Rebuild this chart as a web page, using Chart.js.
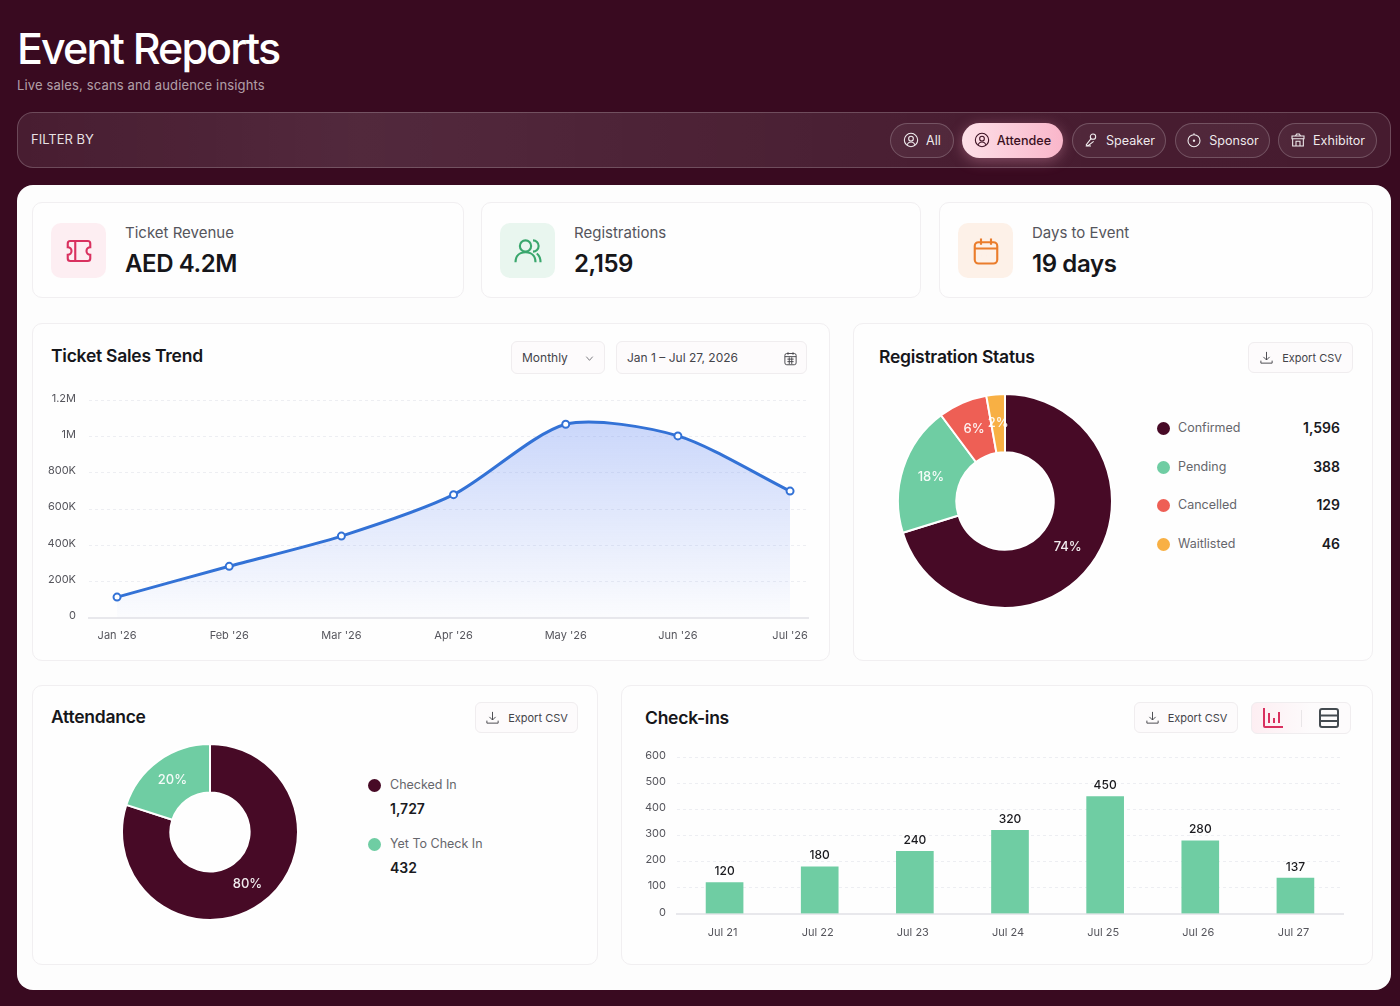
<!DOCTYPE html>
<html lang="en">
<head>
<meta charset="utf-8">
<title>Event Reports</title>
<script src="https://cdn.jsdelivr.net/npm/chart.js@4"></script>
<style>
  * { box-sizing: border-box; margin: 0; padding: 0; }
  html, body { width: 1400px; height: 1006px; overflow: hidden; }
  body { background: #390a20; font-family: Inter, "Noto Sans", sans-serif; color: #16161a; position: relative; }
  .abs, h1, .sub, .filter, .panel, .card, canvas, .title, .btn { position: absolute; }
  h1 { left: 17px; top: 21px; font-size: 43px; line-height: 54px; font-weight: 500; color: #fff; letter-spacing: -1.9px; }
  .sub { left: 17px; top: 76px; font-size: 13px; line-height: 18px; color: rgba(255,255,255,.62); letter-spacing: .15px; }
  .filter { left: 17px; top: 112px; width: 1374px; height: 56px; border-radius: 16px; border: 1px solid rgba(255,255,255,.2);
    background: linear-gradient(90deg, rgba(255,255,255,.08), rgba(255,255,255,.13) 25%, rgba(255,255,255,.08) 70%, rgba(255,255,255,.07)); }
  .filter span.lbl { position: absolute; left: 13px; top: 18px; font-size: 13px; line-height: 17px; color: rgba(255,255,255,.88); }
  .pill { position: absolute; top: 10px; height: 35px; border-radius: 18px; border: 1px solid rgba(255,255,255,.2); background: rgba(255,255,255,.05);
    color: rgba(255,255,255,.92); font-size: 12.6px; display: flex; align-items: center; justify-content: center; gap: 7px; padding-bottom: 1px; }
  .pill.on { background: linear-gradient(90deg, #fde0e8, #f9b6ca); color: #3a1022; border: none; font-weight: 500; box-shadow: 0 3px 14px rgba(249,170,195,.35); }
  .pill svg { width: 16px; height: 16px; fill: none; stroke: currentColor; stroke-width: 1.6; }
  .panel { left: 17px; top: 185px; width: 1374px; height: 805px; border-radius: 16px; background: #fdfdfd; }
  .card { background: #fefefe; border: 1px solid #f1eff1; border-radius: 10px; }
  .ico { position: absolute; width: 55px; height: 55px; border-radius: 10px; left: 18px; top: 20px; display: flex; align-items: center; justify-content: center; }
  .ico svg { width: 30px; height: 30px; fill: none; stroke: currentColor; stroke-width: 1.7; }
  .kpi-l { position: absolute; left: 92px; top: 20px; font-size: 15px; line-height: 20px; color: #55555c; white-space: nowrap; }
  .kpi-v { position: absolute; left: 92px; top: 45px; font-size: 24px; line-height: 32px; font-weight: 600; letter-spacing: -.4px; white-space: nowrap; }
  .title { font-size: 17.5px; line-height: 24px; font-weight: 600; letter-spacing: -.25px; white-space: nowrap; }
  .btn { height: 31px; border: 1px solid #f0edef; border-radius: 6px; background: #fdfbfc; font-size: 11px; color: #44444a; display: flex; align-items: center; justify-content: center; gap: 8px; white-space: nowrap; }
  .btn svg { fill: none; stroke: currentColor; stroke-width: 1.5; }
  .dot { position: absolute; width: 13px; height: 13px; border-radius: 50%; }
  .leg { position: absolute; font-size: 12.5px; line-height: 18px; color: #66666c; white-space: nowrap; }
  .val { position: absolute; font-size: 14px; line-height: 18px; font-weight: 600; color: #1a1a1e; white-space: nowrap; }
</style>
</head>
<body>
<h1>Event Reports</h1>
<div class="sub">Live sales, scans and audience insights</div>

<div class="filter">
  <span class="lbl">FILTER BY</span>
  <div class="pill" style="left:872px;width:64px"><svg viewBox="0 0 24 24"><circle cx="12" cy="12" r="10"/><circle cx="12" cy="10" r="3.5"/><path d="M6 19c1.5-3 3.5-4 6-4s4.5 1 6 4"/></svg>All</div>
  <div class="pill on" style="left:944px;width:101px"><svg viewBox="0 0 24 24"><circle cx="12" cy="12" r="10"/><circle cx="12" cy="10" r="3.5"/><path d="M6 19c1.5-3 3.5-4 6-4s4.5 1 6 4"/></svg>Attendee</div>
  <div class="pill" style="left:1054px;width:94px"><svg viewBox="0 0 24 24"><circle cx="15" cy="7" r="4"/><path d="M12 10 5 19l2 2 9-7M4 21h8"/></svg>Speaker</div>
  <div class="pill" style="left:1157px;width:95px"><svg viewBox="0 0 24 24"><circle cx="12" cy="13" r="9"/><circle cx="12" cy="13" r="1"/><path d="M12 2v2"/></svg>Sponsor</div>
  <div class="pill" style="left:1260px;width:99px"><svg viewBox="0 0 24 24"><path d="M4 10h16v11H4zM3 6h18v4H3zM9 21v-7h6v7M8 6l2-3h4l2 3"/></svg>Exhibitor</div>
</div>

<div class="panel"></div>

<!-- KPI cards -->
<div class="card" style="left:32px;top:202px;width:432px;height:96px">
  <div class="ico" style="background:#fdeef2;color:#d9315f"><svg viewBox="0 0 24 24"><path d="M5 4h14a2 2 0 0 1 2 2v3a3 3 0 0 0 0 6v3a2 2 0 0 1-2 2H5a2 2 0 0 1-2-2v-3a3 3 0 0 0 0-6V6a2 2 0 0 1 2-2zM9 4v16"/></svg></div>
  <div class="kpi-l">Ticket Revenue</div><div class="kpi-v">AED 4.2M</div>
</div>
<div class="card" style="left:481px;top:202px;width:440px;height:96px">
  <div class="ico" style="background:#e9f6ef;color:#3aa76d"><svg viewBox="0 0 24 24"><circle cx="10" cy="8" r="4.5"/><path d="M2 21c0-5 3-8 8-8s8 3 8 8M16 3.5a4.5 4.5 0 0 1 0 9M19 14c2 1.5 3 4 3 7"/></svg></div>
  <div class="kpi-l">Registrations</div><div class="kpi-v">2,159</div>
</div>
<div class="card" style="left:939px;top:202px;width:434px;height:96px">
  <div class="ico" style="background:#fdf1e8;color:#ea7d2c"><svg viewBox="0 0 24 24"><rect x="3" y="5" width="18" height="17" rx="3"/><path d="M3 10h18M8 2v5M16 2v5M8 15.5h.01M12 15.5h.01M16 15.5h.01"/></svg></div>
  <div class="kpi-l">Days to Event</div><div class="kpi-v">19 days</div>
</div>

<!-- Chart cards -->
<div class="card" style="left:32px;top:323px;width:798px;height:338px"></div>
<div class="card" style="left:853px;top:323px;width:520px;height:338px"></div>
<div class="card" style="left:32px;top:685px;width:566px;height:280px"></div>
<div class="card" style="left:621px;top:685px;width:752px;height:280px"></div>

<div class="title" style="left:51px;top:344px">Ticket Sales Trend</div>
<div class="btn" style="left:511px;top:341px;width:94px;height:33px;justify-content:flex-start;padding-left:10px;font-size:12px">Monthly
  <svg class="abs" style="right:9px;top:11px" width="11" height="11" viewBox="0 0 24 24"><path d="m5 8 7 8 7-8"/></svg></div>
<div class="btn" style="left:616px;top:341px;width:191px;height:33px;justify-content:flex-start;padding-left:10px;font-size:12px">Jan 1 – Jul 27, 2026
  <svg class="abs" style="right:8px;top:9px" width="15" height="15" viewBox="0 0 24 24"><rect x="3" y="4" width="18" height="18" rx="3"/><path d="M3 9h18M8 2v4M16 2v4M7 13h10M7 17h10M10 10v11M14 10v11"/></svg></div>

<div class="title" style="left:879px;top:345px">Registration Status</div>
<div class="btn" style="left:1248px;top:342px;width:105px"><svg width="15" height="15" viewBox="0 0 24 24"><path d="M12 3v13m-5-5 5 5 5-5M3 17v4h18v-4"/></svg>Export CSV</div>

<div class="title" style="left:51px;top:705px">Attendance</div>
<div class="btn" style="left:475px;top:702px;width:103px"><svg width="15" height="15" viewBox="0 0 24 24"><path d="M12 3v13m-5-5 5 5 5-5M3 17v4h18v-4"/></svg>Export CSV</div>

<div class="title" style="left:645px;top:706px">Check-ins</div>
<div class="btn" style="left:1134px;top:702px;width:104px"><svg width="15" height="15" viewBox="0 0 24 24"><path d="M12 3v13m-5-5 5 5 5-5M3 17v4h18v-4"/></svg>Export CSV</div>
<div class="btn" style="left:1251px;top:702px;width:100px;height:32px;background:linear-gradient(90deg,#fdeef2,#fdfbfc 60%)">
  <svg class="abs" style="left:9px;top:3px;color:#d9315f;stroke-width:2" width="24" height="24" viewBox="0 0 24 24"><path d="M3 2v18a1 1 0 0 0 1 1h18M8 7v10M13 12v5M18 6v11"/></svg>
  <div class="abs" style="left:49px;top:7px;width:1px;height:17px;background:#e9e6e8"></div>
  <svg class="abs" style="left:65px;top:3px;color:#444a50;stroke-width:2" width="24" height="24" viewBox="0 0 24 24"><rect x="3" y="3" width="18" height="18" rx="2"/><path d="M3 9.5h18M3 15h18"/></svg>
</div>

<canvas id="salesChart" style="left:40px;top:381px" width="790" height="274"></canvas>
<canvas id="statusChart" style="left:893px;top:388.5px" width="224" height="224"></canvas>
<canvas id="attendChart" style="left:120.5px;top:743px" width="178" height="178"></canvas>
<canvas id="checkinChart" style="left:630px;top:740px" width="730" height="220"></canvas>

<div id="statusLegend"></div>
<div id="attendLegend"></div>

<script>
const salesMonths = ["Jan '26", "Feb '26", "Mar '26", "Apr '26", "May '26", "Jun '26", "Jul '26"];
const salesValues = [114000, 284000, 451000, 680000, 1069000, 1005000, 700000];
const salesTicks = ["0", "200K", "400K", "600K", "800K", "1M", "1.2M"];

const statusNames = ["Confirmed", "Pending", "Cancelled", "Waitlisted"];
const statusCounts = ["1,596", "388", "129", "46"];
const statusPercents = ["74%", "18%", "6%", "2%"];
// slice sizes as drawn in the picture, they don't quite follow the printed percents
const statusSlices = [70.2, 19.6, 7.4, 2.8];

const attendNames = ["Checked In", "Yet To Check In"];
const attendCounts = ["1,727", "432"];
const attendPercents = ["80%", "20%"];
const attendSlices = [1727, 432];

const checkinDays = ["Jul 21", "Jul 22", "Jul 23", "Jul 24", "Jul 25", "Jul 26", "Jul 27"];
const checkinValues = [120, 180, 240, 320, 450, 280, 137];

const statusColors = ["#470a26", "#6fcda3", "#ee5f55", "#f8b044"];
const attendColors = ["#470a26", "#6fcda3"];

const tickFont = { family: "Inter", size: 11 };
const tickColor = "#55555c";
const gridColor = "#edeef2";

Chart.defaults.animation = false;
Chart.defaults.responsive = false;
Chart.defaults.plugins.legend.display = false;
Chart.defaults.plugins.tooltip.enabled = false;

// percent text on every slice
const sliceLabels = {
    id: "sliceLabels",
    afterDatasetsDraw(chart) {
        const texts = chart.options.plugins.sliceLabels.texts;
        const ctx = chart.ctx;
        const arcs = chart.getDatasetMeta(0).data;
        ctx.save();
        ctx.font = "500 13px Inter";
        ctx.fillStyle = "rgba(255,255,255,.92)";
        ctx.textAlign = "center";
        ctx.textBaseline = "middle";
        arcs.forEach((arc, i) => {
            const p = arc.tooltipPosition();
            ctx.fillText(texts[i], p.x, p.y);
        });
        ctx.restore();
    }
};

// number above every bar
const barLabels = {
    id: "barLabels",
    afterDatasetsDraw(chart) {
        const ctx = chart.ctx;
        ctx.save();
        ctx.font = "500 12px Inter";
        ctx.fillStyle = "#1a1a1e";
        ctx.textAlign = "center";
        ctx.textBaseline = "middle";
        chart.getDatasetMeta(0).data.forEach((bar, i) => {
            ctx.fillText(checkinValues[i], bar.x, bar.y - 11);
        });
        ctx.restore();
    }
};

new Chart(document.getElementById("salesChart"), {
    type: "line",
    data: {
        datasets: [{
            data: salesValues.map((v, i) => ({ x: i, y: v })),
            borderColor: "#3372d6",
            borderWidth: 3,
            tension: 0.26,
            pointRadius: 3.5,
            pointBorderWidth: 2,
            pointBackgroundColor: "#fff",
            pointBorderColor: "#3372d6",
            fill: "origin",
            backgroundColor: (c) => {
                const area = c.chart.chartArea;
                if (!area) return "transparent";
                const g = c.chart.ctx.createLinearGradient(0, area.top + 20, 0, area.bottom);
                g.addColorStop(0, "rgba(110,145,245,.36)");
                g.addColorStop(1, "rgba(110,145,245,.02)");
                return g;
            }
        }]
    },
    options: {
        layout: { padding: { top: 10, right: 22, left: 0, bottom: 0 } },
        scales: {
            x: {
                type: "linear",
                min: -0.25,
                max: 6.16,
                afterBuildTicks: (s) => { s.ticks = salesMonths.map((m, i) => ({ value: i })); },
                afterFit: (s) => { s.height = 37.3; },
                grid: { display: false },
                border: { color: "#e8e8ec", width: 2 },
                ticks: {
                    autoSkip: false, maxRotation: 0, padding: 3, color: tickColor, font: tickFont,
                    callback: (v) => salesMonths[v]
                }
            },
            y: {
                min: 0,
                max: 1200000,
                afterFit: (s) => { s.width = 49; },
                border: { display: false, dash: [3, 3] },
                grid: { color: gridColor, drawTicks: false, tickLength: 0 },
                ticks: {
                    stepSize: 200000, padding: 13, labelOffset: -2, color: tickColor, font: tickFont,
                    callback: (v) => salesTicks[v / 200000]
                }
            }
        }
    }
});

new Chart(document.getElementById("statusChart"), {
    type: "doughnut",
    data: {
        labels: statusNames,
        datasets: [{ data: statusSlices, backgroundColor: statusColors, borderColor: "#fff", borderWidth: 2 }]
    },
    options: {
        radius: 107,
        cutout: "45.5%",
        plugins: { sliceLabels: { texts: statusPercents } }
    },
    plugins: [sliceLabels]
});

new Chart(document.getElementById("attendChart"), {
    type: "doughnut",
    data: {
        labels: attendNames,
        datasets: [{ data: attendSlices, backgroundColor: attendColors, borderColor: "#fff", borderWidth: 2 }]
    },
    options: {
        radius: 88,
        cutout: "45%",
        plugins: { sliceLabels: { texts: attendPercents } }
    },
    plugins: [sliceLabels]
});

new Chart(document.getElementById("checkinChart"), {
    type: "bar",
    data: {
        labels: checkinDays,
        datasets: [{ data: checkinValues, backgroundColor: "#6fcda3", barThickness: 37 }]
    },
    options: {
        layout: { padding: { top: 6.4, right: 17, left: 0, bottom: 0 } },
        scales: {
            x: {
                afterFit: (s) => { s.height = 46.3; },
                grid: { display: false },
                border: { color: "#e8e8ec", width: 2 },
                ticks: { padding: 4, labelOffset: -2, color: tickColor, font: tickFont, maxRotation: 0 }
            },
            y: {
                min: 0,
                max: 600,
                afterFit: (s) => { s.width = 47; },
                border: { display: false, dash: [3, 3] },
                grid: { color: gridColor, drawTicks: false, tickLength: 0 },
                ticks: { stepSize: 100, padding: 11, labelOffset: -1.5, color: tickColor, font: tickFont }
            }
        }
    },
    plugins: [barLabels]
});

// legends are plain html next to the donuts
const statusLegend = document.getElementById("statusLegend");
const statusRowY = [428, 467, 505, 544];
statusNames.forEach((name, i) => {
    statusLegend.innerHTML += `
        <div class="dot" style="left:1156.5px;top:${statusRowY[i] - 6.5}px;background:${statusColors[i]}"></div>
        <div class="leg" style="left:1178px;top:${statusRowY[i] - 9}px">${name}</div>
        <div class="val" style="right:60px;top:${statusRowY[i] - 9}px">${statusCounts[i]}</div>`;
});

const attendLegend = document.getElementById("attendLegend");
const attendRowY = [785, 844];
attendNames.forEach((name, i) => {
    attendLegend.innerHTML += `
        <div class="dot" style="left:367.5px;top:${attendRowY[i] - 6.5}px;background:${attendColors[i]}"></div>
        <div class="leg" style="left:390px;top:${attendRowY[i] - 9}px">${name}</div>
        <div class="val" style="left:390px;top:${attendRowY[i] + 15}px">${attendCounts[i]}</div>`;
});
</script>
</body>
</html>
